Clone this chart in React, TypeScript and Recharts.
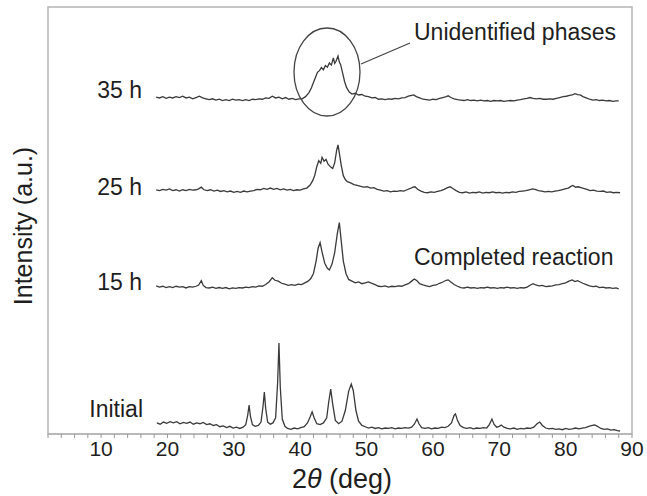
import React from 'react';
import { LineChart, Line, XAxis, YAxis, ReferenceArea } from 'recharts';

// 2θ (deg) , relative intensity (a.u.)
const initial: [number, number][] = [
  [18.4, 2.6], [18.9, 2.3], [19.4, 2.8], [19.9, 2.5], [20.4, 2.9], [20.9, 2.6], [21.4, 2.9], [21.9, 2.4],
  [22.4, 2.7], [22.9, 2.5], [23.4, 2.8], [23.9, 2.3], [24.4, 2.6], [24.9, 2.4], [25.4, 2.7], [25.9, 2.2],
  [26.4, 2.4], [26.9, 2.0], [27.4, 2.2], [27.9, 1.7], [28.4, 1.9], [28.9, 1.5], [29.4, 1.8], [29.9, 1.4],
  [30.4, 1.6], [30.9, 1.3], [31.4, 1.6], [31.8, 2.2], [32.1, 4.5], [32.3, 6.8], [32.5, 4.2], [32.8, 2.2],
  [33.2, 1.8], [33.7, 2.0], [34.1, 2.8], [34.4, 6.5], [34.6, 9.8], [34.8, 6.0], [35.1, 2.8], [35.5, 2.3],
  [35.9, 2.6], [36.3, 3.8], [36.6, 12.0], [36.8, 21.3], [37.0, 11.0], [37.3, 3.5], [37.7, 1.8], [38.1, 1.3],
  [38.6, 1.1], [39.1, 1.4], [39.6, 1.2], [40.1, 1.5], [40.6, 1.7], [41.1, 2.6], [41.5, 4.0], [41.8, 5.2],
  [42.1, 3.8], [42.5, 2.4], [43.0, 2.2], [43.5, 2.6], [44.0, 3.8], [44.3, 7.5], [44.6, 10.5], [44.9, 7.0],
  [45.3, 3.2], [45.8, 2.4], [46.3, 3.0], [46.8, 5.5], [47.3, 10.0], [47.7, 11.7], [48.0, 10.2], [48.4, 5.5],
  [48.8, 3.0], [49.3, 2.0], [49.8, 1.7], [50.3, 1.4], [50.8, 1.6], [51.3, 1.3], [51.8, 1.5], [52.3, 1.2],
  [52.8, 1.4], [53.3, 1.3], [53.8, 1.5], [54.3, 1.2], [54.8, 1.4], [55.3, 1.3], [55.8, 1.5], [56.3, 1.4],
  [56.8, 1.6], [57.2, 2.3], [57.6, 3.5], [57.9, 2.4], [58.3, 1.5], [58.8, 1.3], [59.3, 1.5], [59.8, 1.2],
  [60.3, 1.4], [60.8, 1.3], [61.3, 1.6], [61.8, 1.5], [62.3, 1.8], [62.8, 2.6], [63.2, 4.4], [63.4, 4.7],
  [63.7, 3.2], [64.1, 2.0], [64.6, 1.5], [65.1, 1.3], [65.6, 1.5], [66.1, 1.2], [66.6, 1.4], [67.1, 1.3],
  [67.6, 1.5], [68.1, 1.4], [68.5, 2.2], [68.9, 3.5], [69.2, 2.3], [69.6, 1.6], [70.0, 1.8], [70.3, 2.1],
  [70.7, 1.6], [71.2, 1.3], [71.7, 1.2], [72.2, 1.4], [72.7, 1.1], [73.2, 1.3], [73.7, 1.2], [74.2, 1.4],
  [74.7, 1.3], [75.2, 1.6], [75.7, 2.4], [76.1, 2.8], [76.5, 2.0], [77.0, 1.4], [77.5, 1.2], [78.0, 1.3],
  [78.5, 1.1], [79.0, 1.2], [79.5, 1.0], [80.0, 1.3], [80.5, 1.1], [81.0, 1.2], [81.5, 1.4], [82.0, 1.2],
  [82.5, 1.4], [83.0, 1.5], [83.5, 1.8], [84.0, 2.0], [84.4, 2.1], [84.8, 1.8], [85.3, 1.3], [85.8, 1.1],
  [86.3, 1.2], [86.8, 0.9], [87.3, 1.0], [87.8, 0.8], [88.2, 0.7],
];

const h15: [number, number][] = [
  [18.3, 0.7], [18.8, 0.4], [19.3, 0.6], [19.8, 0.3], [20.3, 0.5], [20.8, 0.3], [21.3, 0.6], [21.8, 0.4],
  [22.3, 0.5], [22.8, 0.2], [23.3, 0.5], [23.8, 0.4], [24.3, 0.6], [24.7, 0.9], [25.1, 1.9], [25.4, 0.8],
  [25.8, 0.3], [26.3, 0.2], [26.8, 0.4], [27.3, 0.1], [27.8, 0.3], [28.3, 0.1], [28.8, 0.3], [29.3, 0.0],
  [29.8, 0.2], [30.3, 0.1], [30.8, 0.3], [31.3, 0.2], [31.8, 0.4], [32.3, 0.3], [32.8, 0.5], [33.3, 0.4],
  [33.8, 0.7], [34.3, 0.6], [34.8, 1.0], [35.3, 1.6], [35.8, 2.6], [36.2, 2.0], [36.7, 1.8], [37.2, 1.3],
  [37.7, 1.1], [38.2, 0.8], [38.7, 1.0], [39.2, 0.8], [39.7, 1.1], [40.2, 1.0], [40.7, 1.4], [41.2, 1.8],
  [41.6, 2.4], [42.0, 3.6], [42.4, 6.5], [42.7, 9.5], [43.0, 10.8], [43.3, 8.6], [43.7, 6.0], [44.1, 4.8],
  [44.4, 4.4], [44.8, 5.8], [45.2, 8.5], [45.6, 13.0], [45.9, 15.5], [46.2, 11.0], [46.5, 6.5], [46.9, 3.6],
  [47.3, 2.2], [47.8, 1.8], [48.3, 1.4], [48.8, 1.6], [49.3, 1.2], [49.8, 1.4], [50.3, 1.6], [50.8, 1.3],
  [51.3, 1.0], [51.8, 0.6], [52.3, 0.5], [52.8, 0.7], [53.3, 0.4], [53.8, 0.6], [54.3, 0.5], [54.8, 0.7],
  [55.3, 0.6], [55.8, 0.9], [56.3, 1.2], [56.8, 1.8], [57.2, 2.3], [57.6, 1.9], [58.0, 1.2], [58.5, 0.9],
  [59.0, 0.7], [59.5, 0.5], [60.0, 0.8], [60.5, 0.9], [61.0, 1.3], [61.5, 1.6], [62.0, 2.0], [62.3, 2.1],
  [62.7, 1.6], [63.2, 1.0], [63.7, 0.6], [64.2, 0.3], [64.7, 0.2], [65.2, 0.4], [65.7, 0.2], [66.2, 0.3],
  [66.7, 0.1], [67.2, 0.3], [67.7, 0.2], [68.2, 0.4], [68.7, 0.2], [69.2, 0.3], [69.7, 0.1], [70.2, 0.3],
  [70.7, 0.2], [71.2, 0.4], [71.7, 0.2], [72.2, 0.3], [72.7, 0.1], [73.2, 0.3], [73.7, 0.2], [74.2, 0.4],
  [74.7, 0.9], [75.1, 1.2], [75.5, 0.9], [76.0, 0.7], [76.5, 0.8], [77.0, 0.5], [77.5, 0.6], [78.0, 0.7],
  [78.5, 0.9], [79.0, 1.0], [79.5, 1.2], [80.0, 1.4], [80.5, 1.8], [81.0, 2.1], [81.4, 1.7], [81.8, 1.9],
  [82.2, 1.6], [82.6, 1.3], [83.1, 1.0], [83.6, 0.7], [84.1, 0.5], [84.6, 0.6], [85.1, 0.3], [85.6, 0.4],
  [86.1, 0.2], [86.6, 0.3], [87.1, 0.1], [87.6, 0.2], [88.0, 0.0],
];

const h25: [number, number][] = [
  [18.3, 1.2], [18.8, 1.0], [19.3, 1.3], [19.8, 1.1], [20.3, 1.4], [20.8, 1.0], [21.3, 1.2], [21.8, 0.9],
  [22.3, 1.2], [22.8, 1.0], [23.3, 1.3], [23.8, 1.1], [24.3, 1.2], [24.7, 1.4], [25.1, 1.8], [25.5, 1.2],
  [26.0, 1.0], [26.5, 1.2], [27.0, 0.9], [27.5, 1.1], [28.0, 0.8], [28.5, 1.0], [29.0, 0.7], [29.5, 0.9],
  [30.0, 0.6], [30.5, 0.8], [31.0, 0.6], [31.5, 0.9], [32.0, 0.7], [32.5, 0.9], [33.0, 1.0], [33.5, 1.3],
  [34.0, 1.2], [34.5, 1.5], [35.0, 1.3], [35.5, 1.6], [36.0, 1.3], [36.5, 1.5], [37.0, 1.2], [37.5, 1.4],
  [38.0, 1.1], [38.5, 1.3], [39.0, 1.0], [39.5, 1.2], [40.0, 1.1], [40.5, 1.4], [41.0, 1.6], [41.5, 2.3],
  [41.9, 3.4], [42.2, 4.6], [42.5, 6.6], [42.8, 8.0], [43.1, 7.4], [43.3, 8.8], [43.6, 7.9], [43.9, 8.3],
  [44.2, 7.2], [44.6, 6.5], [44.9, 6.2], [45.2, 7.5], [45.5, 10.5], [45.7, 11.7], [45.9, 9.8], [46.2, 6.8],
  [46.5, 4.5], [46.8, 3.6], [47.1, 3.1], [47.6, 2.8], [48.1, 2.4], [48.6, 2.2], [49.1, 2.0], [49.6, 1.8],
  [50.1, 1.9], [50.6, 1.6], [51.1, 1.7], [51.6, 1.3], [52.1, 1.1], [52.6, 0.9], [53.1, 1.0], [53.6, 0.7],
  [54.1, 0.9], [54.6, 0.8], [55.1, 1.0], [55.6, 0.9], [56.1, 1.2], [56.6, 1.5], [57.0, 1.8], [57.3, 1.9],
  [57.7, 1.3], [58.2, 0.9], [58.7, 0.6], [59.2, 0.5], [59.7, 0.7], [60.2, 0.6], [60.7, 0.8], [61.2, 1.0],
  [61.7, 1.3], [62.2, 1.7], [62.6, 1.9], [63.0, 1.5], [63.5, 1.0], [64.0, 0.6], [64.5, 0.5], [65.0, 0.7],
  [65.5, 0.4], [66.0, 0.6], [66.5, 0.5], [67.0, 0.7], [67.5, 0.4], [68.0, 0.6], [68.5, 0.5], [69.0, 0.7],
  [69.5, 0.5], [70.0, 0.6], [70.5, 0.4], [71.0, 0.6], [71.5, 0.5], [72.0, 0.7], [72.5, 0.6], [73.0, 0.8],
  [73.5, 0.9], [74.0, 1.0], [74.5, 1.2], [75.0, 1.4], [75.4, 1.3], [75.9, 1.0], [76.4, 0.9], [76.9, 0.7],
  [77.4, 0.8], [77.9, 0.7], [78.4, 0.9], [78.9, 1.0], [79.4, 1.2], [79.9, 1.4], [80.4, 1.6], [80.8, 2.0],
  [81.1, 2.2], [81.5, 1.8], [81.9, 1.9], [82.3, 1.7], [82.7, 1.5], [83.2, 1.3], [83.7, 1.0], [84.2, 1.1],
  [84.7, 0.9], [85.2, 0.8], [85.7, 0.9], [86.2, 0.6], [86.7, 0.7], [87.2, 0.5], [87.7, 0.6], [88.2, 0.5],
];

const h35: [number, number][] = [
  [18.3, 1.4], [18.8, 1.2], [19.3, 1.5], [19.8, 1.1], [20.3, 1.4], [20.8, 1.2], [21.3, 1.5], [21.8, 1.3],
  [22.3, 1.6], [22.8, 1.2], [23.3, 1.4], [23.8, 1.0], [24.3, 1.3], [24.8, 1.6], [25.3, 1.2], [25.8, 1.0],
  [26.3, 0.8], [26.8, 1.0], [27.3, 0.7], [27.8, 0.9], [28.3, 0.6], [28.8, 0.8], [29.3, 0.6], [29.8, 0.9],
  [30.3, 0.7], [30.8, 0.8], [31.3, 0.6], [31.8, 0.8], [32.3, 0.6], [32.8, 0.9], [33.3, 0.8], [33.8, 1.0],
  [34.3, 0.9], [34.8, 1.2], [35.3, 1.1], [35.8, 1.6], [36.3, 1.2], [36.8, 1.4], [37.3, 1.0], [37.8, 1.3],
  [38.3, 0.9], [38.8, 1.1], [39.3, 0.8], [39.8, 1.0], [40.3, 1.0], [40.8, 1.5], [41.3, 2.4], [41.7, 3.6],
  [42.0, 4.8], [42.3, 6.0], [42.6, 7.2], [42.9, 7.6], [43.2, 8.3], [43.5, 7.8], [43.8, 8.8], [44.1, 8.4],
  [44.4, 9.4], [44.7, 8.9], [45.0, 10.6], [45.2, 9.3], [45.4, 9.8], [45.7, 11.0], [45.9, 9.6], [46.1, 9.0],
  [46.4, 7.0], [46.7, 5.0], [47.0, 3.6], [47.4, 2.6], [47.8, 2.1], [48.3, 2.3], [48.8, 1.9], [49.3, 2.0],
  [49.8, 1.6], [50.3, 1.5], [50.8, 1.2], [51.3, 1.3], [51.8, 0.9], [52.3, 1.0], [52.8, 0.8], [53.3, 1.0],
  [53.8, 0.9], [54.3, 1.1], [54.8, 1.0], [55.3, 1.2], [55.8, 1.3], [56.3, 1.6], [56.8, 1.8], [57.1, 1.9],
  [57.5, 1.5], [58.0, 1.2], [58.5, 0.9], [59.0, 0.8], [59.5, 0.7], [60.0, 0.9], [60.5, 0.8], [61.0, 1.1],
  [61.5, 1.3], [62.0, 1.5], [62.3, 1.7], [62.7, 1.3], [63.2, 1.0], [63.7, 0.8], [64.2, 0.7], [64.7, 0.6],
  [65.2, 0.8], [65.7, 0.6], [66.2, 0.7], [66.7, 0.5], [67.2, 0.7], [67.7, 0.5], [68.2, 0.6], [68.7, 0.4],
  [69.2, 0.6], [69.7, 0.5], [70.2, 0.6], [70.7, 0.4], [71.2, 0.5], [71.7, 0.6], [72.2, 0.5], [72.7, 0.7],
  [73.2, 0.8], [73.7, 1.0], [74.2, 1.1], [74.6, 1.3], [75.1, 1.1], [75.6, 1.0], [76.1, 1.1], [76.6, 0.9],
  [77.1, 0.9], [77.6, 1.0], [78.1, 0.9], [78.6, 1.1], [79.1, 1.3], [79.6, 1.5], [80.1, 1.6], [80.6, 1.8],
  [81.0, 1.9], [81.4, 2.2], [81.8, 2.0], [82.2, 1.9], [82.6, 1.5], [83.1, 1.2], [83.6, 0.9], [84.1, 0.7],
  [84.6, 0.8], [85.1, 0.6], [85.6, 0.7], [86.1, 0.5], [86.6, 0.6], [87.1, 0.4], [87.6, 0.5], [88.0, 0.5],
];

const seriesNames = ['Initial', '15 h', '25 h', '35 h'];
const seriesData = [initial, h15, h25, h35];
const offsets = [0, 34, 56, 77.5]; // vertical stacking of the patterns

const majorTicks = [10, 20, 30, 40, 50, 60, 70, 80, 90];
const minorTicks = Array.from({ length: 45 }, (_, i) => 2 + i * 2);

const FONT = '"Liberation Sans", Arial, Helvetica, sans-serif';
const FRAME = '#b4b4b4';
const INK = '#1e1e1e';

const XTick = (props: any) => {
  const { x, y, payload } = props;
  if (!majorTicks.includes(payload.value)) return null;
  return (
    <text x={x} y={y + 16} textAnchor="middle" fontSize={21} fill={INK} fontFamily={FONT}>
      {payload.value}
    </text>
  );
};

export default function App() {
  const lines = seriesData.map((pts, i) => pts.map(([x, v]) => ({ x, y: v + offsets[i] })));

  return (
    <div style={{ position: 'absolute', left: 0, top: 0, width: 647, height: 496, background: '#fff' }}>
      <LineChart width={647} height={496} margin={{ top: 7, right: 15, left: 48, bottom: 32 }}>
        <XAxis
          dataKey="x"
          type="number"
          domain={[2, 90]}
          ticks={minorTicks}
          interval={0}
          allowDuplicatedCategory={false}
          tick={<XTick />}
          tickSize={4}
          height={30}
          stroke={FRAME}
          axisLine={{ stroke: FRAME, strokeWidth: 1.5 }}
          tickLine={{ stroke: '#999' }}
        />
        <YAxis hide type="number" domain={[0, 100]} />
        <ReferenceArea x1={2} x2={90} y1={0} y2={100} fill="none" stroke={FRAME} strokeWidth={1.5} ifOverflow="visible" />
        {lines.map((d, i) => (
          <Line
            key={seriesNames[i]}
            data={d}
            dataKey="y"
            type="linear"
            stroke="#3a3a3a"
            strokeWidth={1.3}
            dot={false}
            isAnimationActive={false}
          />
        ))}
      </LineChart>
      <svg width={647} height={496} style={{ position: 'absolute', left: 0, top: 0, pointerEvents: 'none' }} fontFamily={FONT}>
        <text x={142} y={98} textAnchor="end" fontSize={23} fill={INK}>35 h</text>
        <text x={142} y={195} textAnchor="end" fontSize={23} fill={INK}>25 h</text>
        <text x={142} y={290} textAnchor="end" fontSize={23} fill={INK}>15 h</text>
        <text x={143} y={417} textAnchor="end" fontSize={23} fill={INK}>Initial</text>
        <ellipse cx={327} cy={72} rx={33} ry={44} fill="none" stroke="#444" strokeWidth={1.3} />
        <line x1={361} y1={64} x2={410} y2={43} stroke="#444" strokeWidth={1.3} />
        <text x={414} y={40} fontSize={23} fill={INK}>Unidentified phases</text>
        <text x={414} y={265} fontSize={23} fill={INK}>Completed reaction</text>
        <text transform="translate(32,226) rotate(-90)" textAnchor="middle" fontSize={25} fill={INK}>Intensity (a.u.)</text>
        <text x={342} y={488} textAnchor="middle" fontSize={27} fill={INK}>
          2<tspan fontStyle="italic">θ</tspan> (deg)
        </text>
      </svg>
    </div>
  );
}
